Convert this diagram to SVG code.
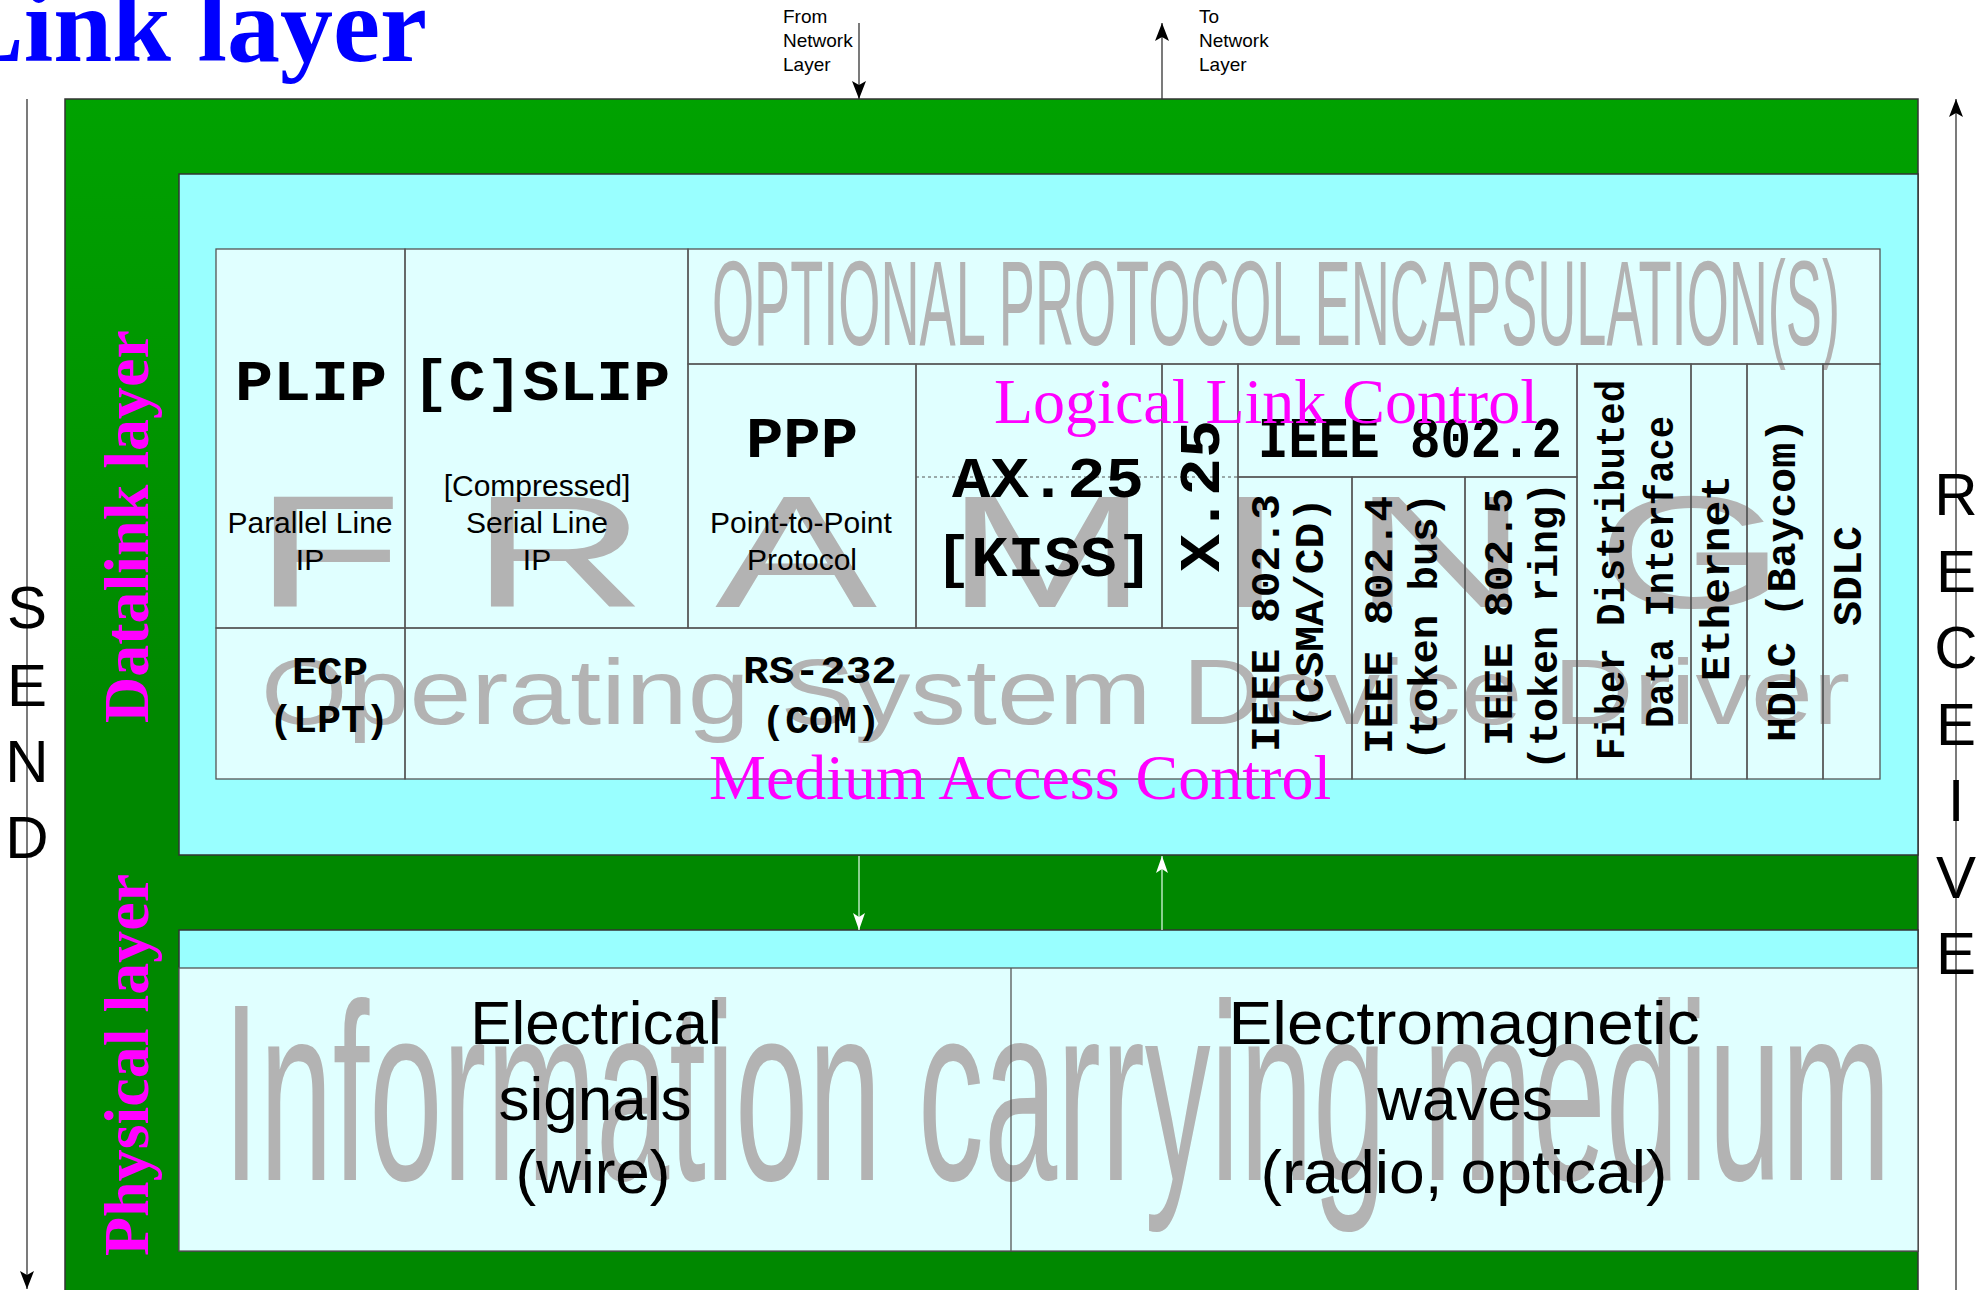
<svg xmlns="http://www.w3.org/2000/svg" width="1988" height="1290" viewBox="0 0 1988 1290">
<defs>
<linearGradient id="gr" gradientUnits="userSpaceOnUse" x1="0" y1="99" x2="0" y2="700">
<stop offset="0" stop-color="#00a200"/><stop offset="1" stop-color="#008800"/>
</linearGradient>
<marker id="ab" viewBox="0 0 18 14" refX="18" refY="7" markerWidth="18" markerHeight="14" markerUnits="userSpaceOnUse" orient="auto"><path d="M0,0 L18,7 L0,14 L4,7 z" fill="#000"/></marker>
<marker id="aw" viewBox="0 0 17 12" refX="17" refY="6" markerWidth="17" markerHeight="12" markerUnits="userSpaceOnUse" orient="auto"><path d="M0,0 L17,6 L0,12 L4,6 z" fill="#ffffff"/></marker>
</defs>
<style>
.mono{font-family:"Liberation Mono","DejaVu Sans Mono",monospace;font-weight:bold;fill:#000}
.sans{font-family:"Liberation Sans",Arial,sans-serif;fill:#000}
.wm{font-family:"Liberation Sans",Arial,sans-serif;fill:#b3b3b3}
.mag{font-family:"Liberation Serif","Times New Roman",serif;fill:#ff00ff}
.lay{font-family:"Liberation Serif","Times New Roman",serif;font-weight:bold;fill:#ff00ff;font-size:64px}
.cell{fill:none;stroke:#555;stroke-width:1.3}
.frame{stroke:#333;stroke-width:1.5}
.big{font-family:"Liberation Sans",Arial,sans-serif;fill:#000;font-size:60px;text-anchor:middle}
.blk{stroke:#333;stroke-width:1.3;fill:none}
.wht{stroke:#e8fff0;stroke-width:1.2;fill:none}
</style>
<rect width="1988" height="1290" fill="#ffffff"/>

<g id="title"><text x="-47" y="61" font-family="Liberation Serif,Times New Roman,serif" font-weight="bold" font-size="106" fill="#0000ff">Link layer</text></g>

<g id="outer-frame"><rect class="frame" x="65" y="99" width="1853" height="1210" fill="url(#gr)"/></g>

<g id="datalink-layer">
<rect class="frame" x="179" y="174" width="1739" height="681" fill="#99ffff"/>
<text class="lay" transform="translate(148,723) rotate(-90)">Datalink layer</text>
<rect x="216" y="249" width="1664" height="530" fill="#e0ffff"/>
</g>

<g id="physical-layer">
<rect class="frame" x="179" y="930" width="1739" height="321" fill="#99ffff"/>
<rect x="179" y="968" width="1739" height="283" fill="#e0ffff" stroke="#555" stroke-width="1.3"/>
<text class="lay" transform="translate(148,1256) rotate(-90)">Physical layer</text>
</g>

<g id="watermarks">
<text class="wm" x="254" y="607" font-size="160" letter-spacing="45" textLength="1600" lengthAdjust="spacingAndGlyphs">FRAMING</text>
<text class="wm" x="261" y="724" font-size="92" textLength="1589" lengthAdjust="spacingAndGlyphs">Operating System Device Driver</text>
<text class="wm" x="712" y="345" font-size="120" textLength="1128" lengthAdjust="spacingAndGlyphs">OPTIONAL PROTOCOL ENCAPSULATION(S)</text>
<text class="wm" x="223" y="1180" font-size="252" textLength="1668" lengthAdjust="spacingAndGlyphs">Information carrying medium</text>
</g>

<g id="cell-plip"><rect class="cell" x="216" y="249" width="189" height="379"/>
<text class="mono" x="311" y="400" font-size="58" text-anchor="middle" textLength="152" lengthAdjust="spacingAndGlyphs">PLIP</text>
<text class="sans" font-size="30" text-anchor="middle"><tspan x="310" y="533">Parallel Line</tspan><tspan x="310" y="570">IP</tspan></text></g>

<g id="cell-cslip"><rect class="cell" x="405" y="249" width="283" height="379"/>
<text class="mono" x="541" y="400" font-size="58" text-anchor="middle" textLength="258" lengthAdjust="spacingAndGlyphs">[C]SLIP</text>
<text class="sans" font-size="30" text-anchor="middle"><tspan x="537" y="496">[Compressed]</tspan><tspan x="537" y="533">Serial Line</tspan><tspan x="537" y="570">IP</tspan></text></g>

<g id="cell-optional"><rect class="cell" x="688" y="249" width="1192" height="115"/></g>

<g id="cell-ppp"><rect class="cell" x="688" y="364" width="228" height="264"/>
<text class="mono" x="802" y="457" font-size="58" text-anchor="middle" textLength="112" lengthAdjust="spacingAndGlyphs">PPP</text>
<text class="sans" font-size="30" text-anchor="middle"><tspan x="801" y="533">Point-to-Point</tspan><tspan x="802" y="570">Protocol</tspan></text></g>

<g id="cell-ax25"><rect class="cell" x="916" y="364" width="246" height="264"/>
<line x1="916" y1="477" x2="1238" y2="477" stroke="#555" stroke-width="1" stroke-dasharray="3,3"/>
<text class="mono" x="1048" y="497" font-size="58" text-anchor="middle" textLength="192" lengthAdjust="spacingAndGlyphs">AX.25</text>
<text class="mono" x="1044" y="576" font-size="58" text-anchor="middle" textLength="218" lengthAdjust="spacingAndGlyphs">[KISS]</text></g>

<g id="cell-x25"><rect class="cell" x="1162" y="364" width="76" height="264"/>
<text class="mono" transform="translate(1219,496) rotate(-90)" font-size="58" text-anchor="middle" textLength="152" lengthAdjust="spacingAndGlyphs">X.25</text></g>

<g id="cell-8022"><rect class="cell" x="1238" y="364" width="339" height="113"/>
<text class="mono" x="1410" y="457" font-size="58" text-anchor="middle" textLength="304" lengthAdjust="spacingAndGlyphs">IEEE 802.2</text></g>

<g id="cell-8023"><rect class="cell" x="1238" y="477" width="114" height="302"/>
<text class="mono" transform="translate(1279,623) rotate(-90)" font-size="40" text-anchor="middle" textLength="258" lengthAdjust="spacingAndGlyphs">IEEE 802.3</text>
<text class="mono" transform="translate(1323,613) rotate(-90)" font-size="40" text-anchor="middle" textLength="232" lengthAdjust="spacingAndGlyphs">(CSMA/CD)</text></g>

<g id="cell-8024"><rect class="cell" x="1352" y="477" width="113" height="302"/>
<text class="mono" transform="translate(1392,625) rotate(-90)" font-size="40" text-anchor="middle" textLength="258" lengthAdjust="spacingAndGlyphs">IEEE 802.4</text>
<text class="mono" transform="translate(1437,627) rotate(-90)" font-size="40" text-anchor="middle" textLength="268" lengthAdjust="spacingAndGlyphs">(token bus)</text></g>

<g id="cell-8025"><rect class="cell" x="1465" y="477" width="112" height="302"/>
<text class="mono" transform="translate(1512,617) rotate(-90)" font-size="40" text-anchor="middle" textLength="258" lengthAdjust="spacingAndGlyphs">IEEE 802.5</text>
<text class="mono" transform="translate(1557,626) rotate(-90)" font-size="40" text-anchor="middle" textLength="288" lengthAdjust="spacingAndGlyphs">(token ring)</text></g>

<g id="cell-fddi"><rect class="cell" x="1577" y="364" width="114" height="415"/>
<text class="mono" transform="translate(1624,570) rotate(-90)" font-size="40" text-anchor="middle" textLength="380" lengthAdjust="spacingAndGlyphs">Fiber Distributed</text>
<text class="mono" transform="translate(1673,572) rotate(-90)" font-size="40" text-anchor="middle" textLength="312" lengthAdjust="spacingAndGlyphs">Data Interface</text></g>

<g id="cell-ethernet"><rect class="cell" x="1691" y="364" width="56" height="415"/>
<text class="mono" transform="translate(1729,578) rotate(-90)" font-size="40" text-anchor="middle" textLength="206" lengthAdjust="spacingAndGlyphs">Ethernet</text></g>

<g id="cell-hdlc"><rect class="cell" x="1747" y="364" width="76" height="415"/>
<text class="mono" transform="translate(1795,580) rotate(-90)" font-size="40" text-anchor="middle" textLength="324" lengthAdjust="spacingAndGlyphs">HDLC (Baycom)</text></g>

<g id="cell-sdlc"><rect class="cell" x="1823" y="364" width="57" height="415"/>
<text class="mono" transform="translate(1861,576) rotate(-90)" font-size="40" text-anchor="middle" textLength="100" lengthAdjust="spacingAndGlyphs">SDLC</text></g>

<g id="cell-ecp"><rect class="cell" x="216" y="628" width="189" height="151"/>
<text class="mono" x="330" y="684" font-size="38" text-anchor="middle" textLength="76" lengthAdjust="spacingAndGlyphs">ECP</text>
<text class="mono" x="329" y="732" font-size="38" text-anchor="middle" textLength="120" lengthAdjust="spacingAndGlyphs">(LPT)</text></g>

<g id="cell-rs232"><rect class="cell" x="405" y="628" width="833" height="151"/>
<text class="mono" x="820" y="683" font-size="38" text-anchor="middle" textLength="154" lengthAdjust="spacingAndGlyphs">RS-232</text>
<text class="mono" x="821" y="733" font-size="38" text-anchor="middle" textLength="119" lengthAdjust="spacingAndGlyphs">(COM)</text></g>

<g id="llc-label"><text class="mag" x="994" y="423" font-size="64">Logical Link Control</text></g>
<g id="mac-label"><text class="mag" x="709" y="799" font-size="64">Medium Access Control</text></g>

<g id="medium-electrical">
<line x1="1011" y1="968" x2="1011" y2="1251" stroke="#555" stroke-width="1.3"/>
<text class="sans" font-size="62" text-anchor="middle"><tspan x="596" y="1044">Electrical</tspan><tspan x="595" y="1120">signals</tspan><tspan x="593" y="1193">(wire)</tspan></text>
</g>
<g id="medium-em">
<text class="sans" font-size="62" text-anchor="middle" x="1464" y="1044" textLength="471" lengthAdjust="spacingAndGlyphs">Electromagnetic</text>
<text class="sans" font-size="62" text-anchor="middle" x="1465" y="1120">waves</text>
<text class="sans" font-size="62" text-anchor="middle" x="1464" y="1193" textLength="407" lengthAdjust="spacingAndGlyphs">(radio, optical)</text>
</g>

<g id="connectors">
<line class="blk" x1="859" y1="23" x2="859" y2="99" marker-end="url(#ab)"/>
<line class="blk" x1="1162" y1="99" x2="1162" y2="23" marker-end="url(#ab)"/>
<line class="wht" x1="859" y1="856" x2="859" y2="930" marker-end="url(#aw)"/>
<line class="wht" x1="1162" y1="930" x2="1162" y2="856" marker-end="url(#aw)"/>
<line class="blk" x1="27" y1="99" x2="27" y2="1289" marker-end="url(#ab)"/>
<line class="blk" x1="1956" y1="1290" x2="1956" y2="99" marker-end="url(#ab)"/>
</g>

<g id="network-labels">
<text class="sans" font-size="19"><tspan x="783" y="23">From</tspan><tspan x="783" y="47">Network</tspan><tspan x="783" y="71">Layer</tspan></text>
<text class="sans" font-size="19"><tspan x="1199" y="23">To</tspan><tspan x="1199" y="47">Network</tspan><tspan x="1199" y="71">Layer</tspan></text>
</g>

<g id="send-label">
<text class="big"><tspan x="27" y="628">S</tspan><tspan x="27" y="706">E</tspan><tspan x="27" y="782">N</tspan><tspan x="27" y="858">D</tspan></text>
</g>
<g id="receive-label">
<text class="big"><tspan x="1956" y="515">R</tspan><tspan x="1956" y="592">E</tspan><tspan x="1956" y="668">C</tspan><tspan x="1956" y="745">E</tspan><tspan x="1956" y="821">I</tspan><tspan x="1956" y="898">V</tspan><tspan x="1956" y="974">E</tspan></text>
</g>
</svg>
